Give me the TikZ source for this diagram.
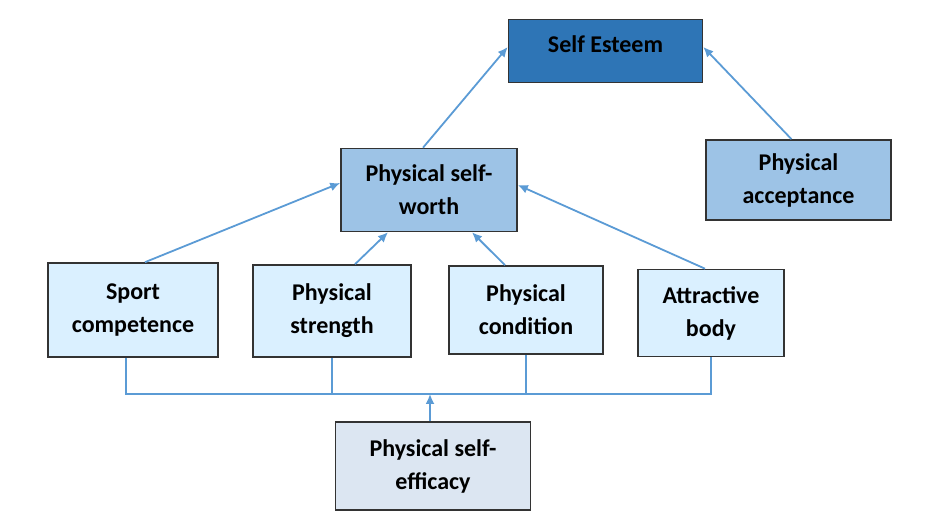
\documentclass[tikz,border=0pt]{standalone}
\usepackage{fontspec}
\setmainfont{Carlito}
\usetikzlibrary{arrows.meta}

\definecolor{darkbox}{HTML}{2E75B6}
\definecolor{midbox}{HTML}{9DC3E6}
\definecolor{lightbox}{HTML}{DAF0FF}
\definecolor{greybox}{HTML}{DCE6F2}
\definecolor{linkblue}{HTML}{5B9BD5}

\tikzset{
  box/.style={draw=black!80, line width=1.6pt, align=center, inner sep=2pt,
    font=\bfseries\fontsize{24}{33}\selectfont},
  link/.style={draw=linkblue, line width=1.8pt},
  arr/.style={link, -{Latex[length=10pt,width=9pt]}}
}

\begin{document}
\begin{tikzpicture}[x=1pt,y=1pt]
    \useasboundingbox (0,0) rectangle (939,529);

    % top level
    \node[box, fill=darkbox, minimum width=194pt, minimum height=63pt, text depth=14pt] (se) at (605.5,478) {Self Esteem};
    \node[box, fill=midbox, minimum width=185pt, minimum height=80pt] (pa) at (798.5,349) {Physical\\acceptance};
    \node[box, fill=midbox, minimum width=176pt, minimum height=83pt] (psw) at (429,339) {Physical self-\\worth};

    % sub domains
    \node[box, fill=lightbox, minimum width=170pt, minimum height=94pt] (sc) at (133,219) {Sport\\competence};
    \node[box, fill=lightbox, minimum width=158pt, minimum height=92pt] (ps) at (332,218) {Physical\\strength};
    \node[box, fill=lightbox, minimum width=154pt, minimum height=88pt] (pc) at (526,219) {Physical\\condition};
    \node[box, fill=lightbox, minimum width=146pt, minimum height=87pt] (ab) at (711,216) {Attractive\\body};

    \node[box, fill=greybox, minimum width=195pt, minimum height=88pt] (pse) at (433,63) {Physical self-\\efficacy};

    % arrows up
    \draw[arr] ([xshift=-6pt]psw.north) -- ([yshift=4pt]se.west);
    \draw[arr] ([xshift=-7pt]pa.north) -- ([yshift=4pt]se.east);
    \draw[arr] ([xshift=12pt]sc.north) -- ([yshift=7pt]psw.west);
    \draw[arr] ([xshift=23pt]ps.north) -- ([xshift=-41pt]psw.south);
    \draw[arr] ([xshift=-21pt]pc.north) -- ([xshift=43pt]psw.south);
    \draw[arr] ([xshift=-6pt]ab.north) -- ([yshift=5pt]psw.east);

    % bracket below
    \coordinate (bus) at (430,135);
    \draw[link] ([xshift=-7pt]sc.south) |- (bus) -| (ab.south);
    \draw[link] (ps.south) -- (ps.south |- bus);
    \draw[link] (pc.south) -- (pc.south |- bus);
    \draw[arr] ([xshift=-3pt]pse.north) -- ([xshift=-3pt]pse.north |- bus);

\end{tikzpicture}
\end{document}
